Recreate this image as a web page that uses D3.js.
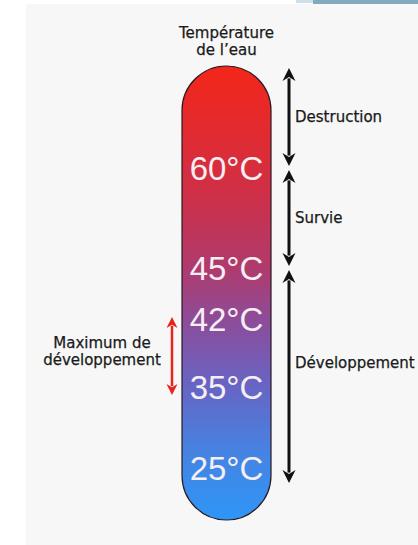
<!DOCTYPE html>
<html>
<head>
<meta charset="utf-8">
<script src="https://cdn.jsdelivr.net/npm/d3@7"></script>
<style>
  html, body { margin: 0; padding: 0; background: #fff; }
  svg { display: block; }
  .lbl { font-family: "DejaVu Sans", sans-serif; font-size: 15px; fill: #1a1a1a; stroke: #1a1a1a; stroke-width: 0.25px; }
</style>
</head>
<body>
<div id="chart"></div>
<script>
// temperature marks written on the thermometer
var tempLabels = [60, 45, 42, 35, 25];

// zones on the right (lo / hi in °C, label drawn at labelAt)
var zoneNames = ["Destruction", "Survie", "Développement"];
var zoneLo    = [60, 45, 20];
var zoneHi    = [70, 60, 45];
var zoneLabelAt = [65, 52.5, 37.5];

// red arrow on the left
var maxDevRange = [35, 42];
var maxDevText = ["Maximum de", "développement"];

var titleLines = ["Température", "de l’eau"];

var W = 418, H = 545;

var svg = d3.select("#chart").append("svg")
    .attr("width", W)
    .attr("height", H);

// page background
svg.append("rect").attr("x", 26).attr("y", 4).attr("width", W - 26).attr("height", H - 4).attr("fill", "#f7f7f7");
svg.append("rect").attr("x", 313).attr("y", 0).attr("width", W - 313).attr("height", 4).attr("fill", "#82aabd");
svg.append("rect").attr("x", 296).attr("y", 0).attr("width", 17).attr("height", 3).attr("fill", "#cfe0e8");

// schematic (piecewise) temperature scale
var y = d3.scaleLinear()
    .domain([20, 25, 35, 42, 45, 60, 70])
    .range([485, 468, 387, 319, 268, 168, 66]);

var tube = {x0: 182, x1: 271, top: 66, bottom: 520};
var cx = (tube.x0 + tube.x1) / 2;
var r = (tube.x1 - tube.x0) / 2;

var defs = svg.append("defs");
var grad = defs.append("linearGradient")
    .attr("id", "tempGrad")
    .attr("gradientUnits", "userSpaceOnUse")
    .attr("x1", 0).attr("x2", 0)
    .attr("y1", tube.top).attr("y2", tube.bottom);

[[0, "#f3261a"], [0.12, "#e52a2c"], [0.28, "#cf2f47"], [0.45, "#ae3b6e"],
 [0.56, "#8d4c99"], [0.7, "#6864c3"], [0.85, "#4683e2"], [1, "#2e96f7"]]
  .forEach(function (s) {
    grad.append("stop").attr("offset", s[0]).attr("stop-color", s[1]);
  });

svg.append("rect")
    .attr("x", tube.x0)
    .attr("y", tube.top)
    .attr("width", tube.x1 - tube.x0)
    .attr("height", tube.bottom - tube.top)
    .attr("rx", r)
    .attr("ry", r)
    .attr("fill", "url(#tempGrad)")
    .attr("stroke", "#2a1a24")
    .attr("stroke-width", 1.2);

// title
svg.append("g").selectAll("text")
    .data(titleLines)
  .enter().append("text")
    .attr("class", "lbl")
    .attr("x", cx)
    .attr("y", function (d, i) { return 38 + i * 17; })
    .attr("text-anchor", "middle")
    .text(function (d) { return d; });

// temperature labels
svg.append("g").selectAll("text")
    .data(tempLabels)
  .enter().append("text")
    .attr("x", cx)
    .attr("y", function (d) { return y(d); })
    .attr("dy", "0.36em")
    .attr("text-anchor", "middle")
    .attr("font-family", "Liberation Sans, Arial, sans-serif")
    .attr("font-size", 33)
    .attr("fill", "#f6eef2")
    .text(function (d) { return d + "°C"; });

// double arrow helper
function doubleArrow(g, x, y1, y2, color, head, sw) {
  g.append("line")
      .attr("x1", x).attr("x2", x)
      .attr("y1", y1 + head * 0.8).attr("y2", y2 - head * 0.8)
      .attr("stroke", color)
      .attr("stroke-width", sw);
  var hw = head / 2;
  g.append("path")
      .attr("d", "M" + x + "," + y1 + "L" + (x + hw) + "," + (y1 + head) +
                 "L" + x + "," + (y1 + head * 0.7) + "L" + (x - hw) + "," + (y1 + head) + "Z")
      .attr("fill", color);
  g.append("path")
      .attr("d", "M" + x + "," + y2 + "L" + (x + hw) + "," + (y2 - head) +
                 "L" + x + "," + (y2 - head * 0.7) + "L" + (x - hw) + "," + (y2 - head) + "Z")
      .attr("fill", color);
}

// right zones
var zones = zoneNames.map(function (n, i) {
  return {name: n, lo: zoneLo[i], hi: zoneHi[i], at: zoneLabelAt[i]};
});

var zoneG = svg.append("g");
zones.forEach(function (z) {
  doubleArrow(zoneG, 289, y(z.hi) + 2, y(z.lo) - 2, "#111", 13, 3);
  zoneG.append("text")
      .attr("class", "lbl")
      .attr("x", 295)
      .attr("y", y(z.at))
      .attr("dy", "0.36em")
      .text(z.name);
});

// left red arrow
var leftG = svg.append("g");
var ly1 = y(maxDevRange[1]) - 2, ly2 = y(maxDevRange[0]) + 8;
doubleArrow(leftG, 172, ly1, ly2, "#e8231c", 11, 2.5);
leftG.selectAll("text")
    .data(maxDevText)
  .enter().append("text")
    .attr("class", "lbl")
    .attr("x", 102)
    .attr("y", function (d, i) { return (ly1 + ly2) / 2 - 8 + i * 17; })
    .attr("text-anchor", "middle")
    .text(function (d) { return d; });
</script>
</body>
</html>
